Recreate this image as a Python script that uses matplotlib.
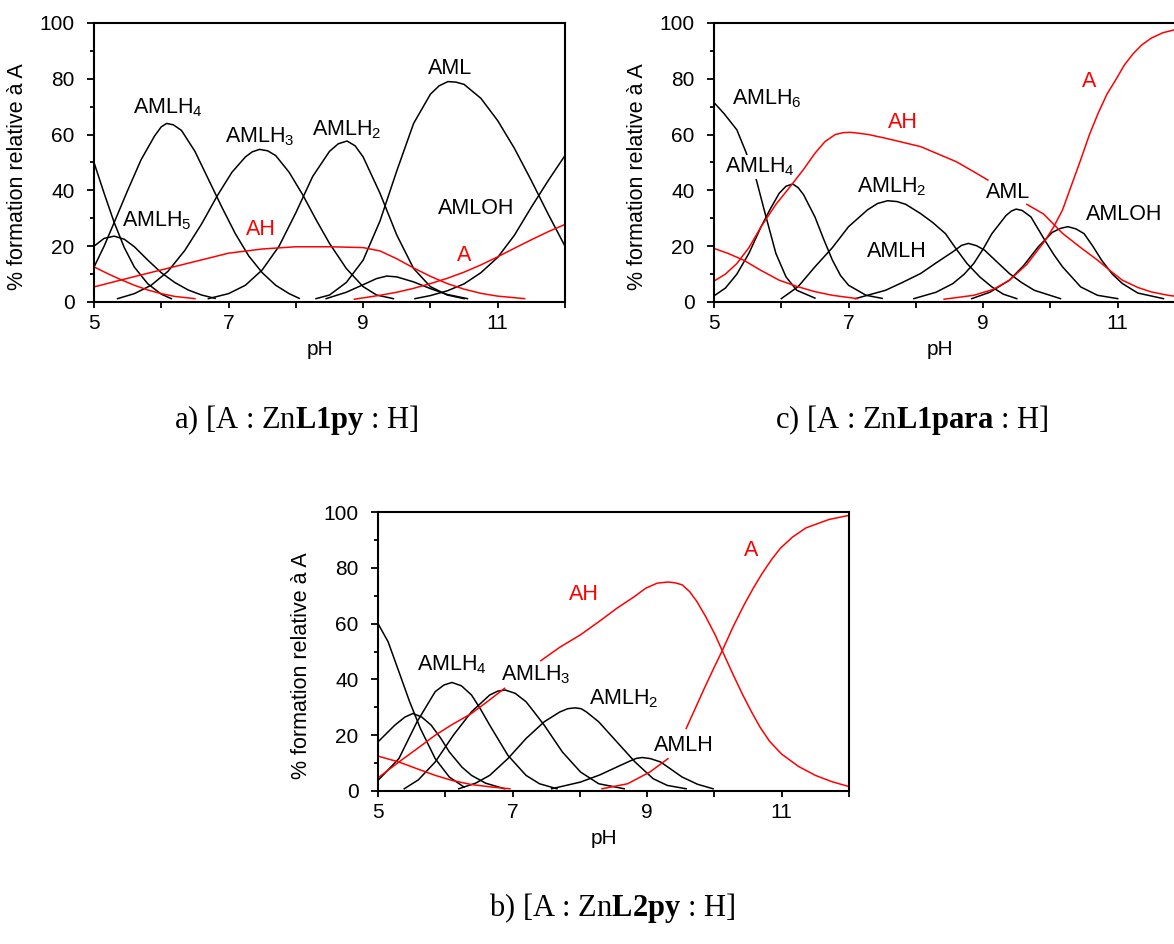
import numpy as np
import matplotlib
matplotlib.use("Agg")
import matplotlib.pyplot as plt

plt.rcParams['font.family'] = ['Liberation Sans', 'DejaVu Sans']
plt.rcParams['mathtext.fontset'] = 'custom'
plt.rcParams['mathtext.rm'] = 'Liberation Sans'
plt.rcParams['mathtext.it'] = 'Liberation Sans:italic'
plt.rcParams['mathtext.bf'] = 'Liberation Serif:bold'

nan = np.nan

# ---- panel a) [A : ZnL1py : H] ----
a_h6_x = [5.0, 5.15, 5.3, 5.45, 5.6, 5.8, 6.0, 6.15]
a_h6_y = [50, 39, 28.5, 19.5, 12.5, 6.5, 2.8, 1.2]
a_h5_x = [5.0, 5.15, 5.3, 5.45, 5.6, 5.8, 6.0, 6.2, 6.4, 6.6, 6.8]
a_h5_y = [20, 22.8, 23.6, 22.5, 19.8, 15, 10.5, 7, 4.3, 2.5, 1.3]
a_h4_x = [5.0, 5.15, 5.3, 5.5, 5.7, 5.9, 6.0, 6.08, 6.18, 6.3, 6.5, 6.7, 6.9, 7.1, 7.3, 7.5, 7.7, 7.9, 8.05]
a_h4_y = [12.5, 20, 28.5, 40, 51, 59.5, 62.8, 64, 63.5, 61.5, 54, 44, 34, 24.5, 16.5, 10.5, 6, 3, 1.3]
a_h3_x = [5.35, 5.6, 5.85, 6.1, 6.35, 6.6, 6.83, 7.05, 7.25, 7.35, 7.46, 7.58, 7.7, 7.9, 8.1, 8.3, 8.5,
          8.75, 9.0, 9.2, 9.45]
a_h3_y = [1.2, 3, 6, 11, 18.5, 28, 38, 46.5, 52, 53.8, 54.7, 54.2, 52.5, 46.5, 38.5, 29.5, 21,
          12, 5.5, 2.5, 1.2]
a_h2_x = [6.7, 7.0, 7.25, 7.5, 7.75, 8.0, 8.25, 8.5, 8.63, 8.76, 8.88, 9.0, 9.25, 9.5, 9.75, 10.0, 10.25, 10.5]
a_h2_y = [1.2, 3, 6, 11.5, 20, 32, 45, 54, 56.7, 57.7, 56, 52, 39, 24, 12, 5.5, 2.5, 1.2]
a_h1_x = [8.45, 8.75, 9.0, 9.2, 9.35, 9.5, 9.75, 10.0, 10.25, 10.55]
a_h1_y = [1.2, 3.5, 6.2, 8.4, 9.3, 9, 7.2, 4.8, 2.7, 1.2]
a_l_x = [8.3, 8.5, 8.75, 9.0, 9.25, 9.5, 9.75, 10.0, 10.13, 10.26, 10.38, 10.5, 10.75, 11.0, 11.25, 11.5,
         11.75, 12.0]
a_l_y = [1.2, 2.5, 7, 15, 29, 47, 64, 74.5, 77.5, 79, 78.8, 78, 73, 65, 55, 43.5, 31.5, 20]
a_oh_x = [9.77, 10.0, 10.25, 10.5, 10.75, 11.0, 11.25, 11.5, 11.75, 12.0]
a_oh_y = [1.2, 2.3, 4, 6.5, 10.5, 16, 24, 34, 43.5, 52.5]
a_free_x = [5.0, 5.2, 5.4, 5.6, 5.8, 6.0, 6.2, 6.5]
a_free_y = [12.6, 10.2, 8, 6, 4.3, 3, 2, 1.2]
a_ah_x = [5.0, 5.5, 6.0, 6.5, 7.0, 7.5, 8.0, 8.5, 9.0, 9.25, 9.5, 9.75, 10.0, 10.25, 10.5, 10.75, 11.0, 11.4]
a_ah_y = [5.4, 8.5, 11.5, 14.5, 17.5, 19, 19.8, 19.8, 19.5, 18.3, 15.5, 12.2, 9.2, 6.6, 4.6, 3.1, 2.1, 1.2]
a_a_x = [8.87, 9.25, 9.5, 9.75, 10.0, 10.25, 10.5, 10.75, 11.0, 11.25, 11.5, 11.75, 12.0]
a_a_y = [1, 2.4, 3.5, 4.9, 6.6, 8.5, 10.7, 13.3, 16.2, 19.3, 22.3, 25.2, 27.8]

# ---- panel c) [A : ZnL1para : H] ----
c_h6_x = [5.0, 5.15, 5.34, 5.47, 5.63, 5.76, 5.92, 6.07, 6.23, 6.5]
c_h6_y = [71.5, 67.5, 61.7, 54, 43.7, 31.7, 17.4, 9, 4.2, 1.4]
c_h4_x = [5.0, 5.17, 5.34, 5.52, 5.7, 5.84, 5.97, 6.07, 6.17, 6.25, 6.33, 6.5, 6.63, 6.76, 6.88, 7.0,
          7.26, 7.5]
c_h4_y = [2.2, 5, 10, 17.5, 27, 33.5, 39, 41.5, 42.3, 41, 38.5, 30.5, 22.5, 15, 9.5, 6, 2.4, 1.3]
c_h2_x = [6.0, 6.25, 6.5, 6.76, 7.0, 7.28, 7.43, 7.58, 7.72, 7.85, 8.07, 8.25, 8.44, 8.6, 8.76, 8.95,
          9.13, 9.3, 9.5]
c_h2_y = [1.2, 5.5, 12.6, 19.5, 27, 33, 35.3, 36.3, 36, 35, 31.7, 28.5, 24.5, 19, 13.8, 9, 5.4, 2.8, 1.2]
c_h1_x = [7.1, 7.55, 7.8, 8.07, 8.3, 8.55, 8.68, 8.78, 8.9, 9.02, 9.2, 9.39, 9.57, 9.76, 10.15]
c_h1_y = [1.2, 4.2, 7, 10.2, 14, 18, 20.3, 21, 20.2, 18.6, 14.5, 10.2, 7, 4.2, 1.2]
c_l_x = [7.97, 8.3, 8.55, 8.72, 8.86, 9.0, 9.13, 9.34, 9.42, 9.49, 9.58, 9.71, 9.92, 10.05, 10.18,
         10.45, 10.7, 11.0]
c_l_y = [1.2, 3.5, 6.6, 10, 13.8, 19, 24.5, 31, 32.6, 33.3, 32.8, 30.5, 22, 17, 12.6, 5.4, 2.4, 1.2]
c_oh_x = [8.83, 9.1, 9.39, 9.6, 9.82, 10.03, 10.15, 10.26, 10.38, 10.5, 10.63, 10.76, 10.92, 11.07,
          11.3, 11.68]
c_oh_y = [1.2, 3.5, 7.8, 13, 19.8, 25, 26.4, 27, 26.2, 24.5, 20, 15, 10, 6.6, 3.2, 1.2]
c_free_x = [5.0, 5.2, 5.44, 5.7, 5.97, 6.23, 6.5, 6.76, 7.13]
c_free_y = [19.2, 17.5, 15, 11.3, 7.8, 5.6, 3.7, 2.4, 1.2]
c_ah_x = [5.0, 5.17, 5.34, 5.52, 5.7, 5.92, 6.13, 6.33, 6.5, 6.65, 6.8, 6.92, 7.03, 7.15, 7.3, 7.55,
          8.07, 8.6, 8.86, 9.07,
          nan, 9.65, 9.9, 10.18, 10.45, 10.7, 10.9, 11.07, 11.3, 11.5, 11.75, 12.0]
c_ah_y = [7.5, 10, 13.8, 19.5, 27, 35, 41.3, 47.5, 53.3, 57.5, 60, 60.7, 60.8, 60.5, 60, 58.7,
          55.7, 50.3, 46.7, 43.7,
          nan, 35, 31.5, 24.6, 19.5, 15, 11, 7.8, 5.2, 3.6, 2.4, 1.6]
c_a_x = [8.42, 8.86, 9.15, 9.39, 9.65, 9.92, 10.05, 10.18, 10.3, 10.45, 10.58, 10.71, 10.84, 10.97,
         11.1, 11.23, 11.36, 11.5, 11.67, 11.85, 12.0]
c_a_y = [1, 2.4, 4.5, 7.8, 13.5, 22, 27, 33, 41, 51, 60, 67.7, 74.5, 79.6, 85, 89, 92.2, 94.6, 96.5,
         97.6, 98]

# ---- panel b) [A : ZnL2py : H] ----
b_h6_x = [5.0, 5.15, 5.31, 5.47, 5.63, 5.85, 6.06, 6.28]
b_h6_y = [60, 53.5, 42.8, 32, 22.4, 11.6, 5, 1.4]
b_h5_x = [5.0, 5.25, 5.4, 5.52, 5.65, 5.79, 5.93, 6.06, 6.25, 6.39, 6.6, 6.88]
b_h5_y = [17.6, 23.6, 26.5, 27.8, 26.5, 23.6, 19, 14, 8.5, 5.6, 2.8, 0.8]
b_h4_x = [5.0, 5.31, 5.58, 5.85, 5.98, 6.1, 6.24, 6.39, 6.52, 6.66, 6.93, 7.2, 7.4, 7.66]
b_h4_y = [3.8, 11.6, 24.8, 35.6, 38, 38.9, 37.7, 34.4, 29.5, 23.6, 12.8, 5.6, 2.6, 0.8]
b_h3_x = [5.39, 5.6, 5.85, 6.12, 6.39, 6.66, 6.78, 6.89, 7.04, 7.2, 7.33, 7.47, 7.74, 8.01, 8.28, 8.66]
b_h3_y = [0.8, 4, 10.4, 20, 28.4, 34.4, 35.8, 36.2, 35, 32, 28, 23.6, 14, 6.8, 2.6, 0.8]
b_h2_x = [6.2, 6.45, 6.66, 6.93, 7.2, 7.47, 7.7, 7.82, 7.93, 8.02, 8.1, 8.28, 8.55, 8.82, 9.09, 9.3, 9.58]
b_h2_y = [0.8, 2.8, 5.6, 11.6, 18.8, 24.8, 28.3, 29.5, 29.8, 29.5, 28.3, 24.8, 17.6, 10.4, 4.4, 2, 0.8]
b_h1_x = [7.58, 8.01, 8.3, 8.55, 8.75, 8.84, 8.93, 9.05, 9.2, 9.52, 9.75, 9.98]
b_h1_y = [0.8, 3.2, 5.8, 8.6, 10.8, 11.7, 12, 11.6, 10.4, 5, 2.4, 0.8]
b_free_x = [5.0, 5.31, 5.6, 5.85, 6.1, 6.39, 6.7, 6.96]
b_free_y = [12.5, 10.4, 7.8, 5.6, 3.8, 2.3, 1.4, 0.8]
b_ah_x = [5.0, 5.31, 5.6, 5.85, 6.1, 6.39, 6.65, 6.88, nan, 7.42, 7.7, 8.01, 8.3, 8.55, 8.8, 8.98, 9.15,
          9.31, 9.42, 9.52, 9.63, 9.74, 9.87, 10.01, 10.14, 10.28, 10.42, 10.55, 10.68, 10.82, 11.0,
          11.25, 11.5, 11.75, 12.0]
b_ah_y = [4.7, 10.4, 15.5, 20, 23.8, 27.8, 32.5, 36.8, nan, 46.7, 51.5, 56, 61, 65.5, 69.5, 72.7, 74.5,
          74.9, 74.6, 73.9, 71.5, 67.9, 62.5, 56, 49, 41.6, 34.5, 28.4, 22.8, 17.8, 13.2,
          8.8, 5.6, 3.3, 1.6]
b_a_x = [8.33, 8.71, 9.04, 9.31, nan, 9.58, 9.85, 9.98, 10.12, 10.28, 10.44, 10.58, 10.71, 10.85, 10.98,
         11.16, 11.36, 11.7, 12.0]
b_a_y = [0.8, 2.6, 6.8, 11.6, nan, 22.4, 36.8, 43.5, 50.5, 59, 66.7, 72.8, 78, 83, 87,
         91, 94.3, 97.3, 98.8]

black_a = [(a_h6_x, a_h6_y), (a_h5_x, a_h5_y), (a_h4_x, a_h4_y), (a_h3_x, a_h3_y), (a_h2_x, a_h2_y),
           (a_h1_x, a_h1_y), (a_l_x, a_l_y), (a_oh_x, a_oh_y)]
red_a = [(a_free_x, a_free_y), (a_ah_x, a_ah_y), (a_a_x, a_a_y)]
labels_a = [("AMLH$_4$", 6.1, 69.5, 'k', False), ("AMLH$_3$", 7.46, 59.3, 'k', False),
            ("AMLH$_2$", 8.76, 61.7, 'k', False), ("AML", 10.29, 83.8, 'k', False),
            ("AMLH$_5$", 5.94, 29.3, 'k', False), ("AMLOH", 10.68, 33.5, 'k', False),
            ("AH", 7.48, 26, 'r', False), ("A", 10.5, 16.8, 'r', False)]

black_c = [(c_h6_x, c_h6_y), (c_h4_x, c_h4_y), (c_h2_x, c_h2_y), (c_h1_x, c_h1_y), (c_l_x, c_l_y),
           (c_oh_x, c_oh_y)]
red_c = [(c_free_x, c_free_y), (c_ah_x, c_ah_y), (c_a_x, c_a_y)]
labels_c = [("AMLH$_6$", 5.78, 73, 'k', False), ("AMLH$_4$", 5.68, 48.5, 'k', True),
            ("AMLH$_2$", 7.64, 41.3, 'k', False), ("AMLH", 7.72, 18, 'k', False),
            ("AML", 9.37, 39.2, 'k', False), ("AMLOH", 11.09, 31.4, 'k', False),
            ("AH", 7.81, 64.3, 'r', False), ("A", 10.58, 79, 'r', False)]

black_b = [(b_h6_x, b_h6_y), (b_h5_x, b_h5_y), (b_h4_x, b_h4_y), (b_h3_x, b_h3_y), (b_h2_x, b_h2_y),
           (b_h1_x, b_h1_y)]
red_b = [(b_free_x, b_free_y), (b_ah_x, b_ah_y), (b_a_x, b_a_y)]
labels_b = [("AMLH$_4$", 6.1, 45.1, 'k', False), ("AMLH$_3$", 7.34, 41.6, 'k', False),
            ("AMLH$_2$", 8.65, 33.2, 'k', False), ("AMLH", 9.55, 16.2, 'k', False),
            ("AH", 8.06, 70.3, 'r', False), ("A", 10.54, 86.1, 'r', False)]

W, H = 1174, 944
fig = plt.figure(figsize=(W / 100, H / 100), dpi=100)


def panel(left, top, blacks, reds, labels):
    ax = fig.add_axes([left / W, 1 - (top + 279) / H, 471 / W, 279 / H])
    for x, y in blacks:
        ax.plot(x, y, color='black', lw=1.1)
    for x, y in reds:
        ax.plot(x, y, color='#ff0000', lw=1.1)
    for txt, x, y, c, boxed in labels:
        t = ax.text(x, y, txt, color='black' if c == 'k' else '#ff0000', fontsize=15.5,
                    ha='center', va='center', zorder=5)
        if boxed:
            t.set_bbox(dict(facecolor='white', edgecolor='none', pad=0.5))
    ax.set_xlim(5, 12)
    ax.set_ylim(0, 100)
    ax.set_xticks([5, 7, 9, 11])
    ax.set_xticks([6, 8, 10, 12], minor=True)
    ax.set_yticks([0, 20, 40, 60, 80, 100])
    ax.set_yticks([10, 30, 50, 70, 90], minor=True)
    ax.tick_params(axis='x', which='both', direction='out', length=4, width=1.3, labelsize=15, pad=5)
    ax.tick_params(axis='y', which='major', direction='out', length=5, width=1.3, labelsize=15, pad=9)
    ax.tick_params(axis='y', which='minor', direction='out', length=3, width=1.3)
    for s in ax.spines.values():
        s.set_linewidth(1.5)
    ax.set_xlabel("pH", fontsize=15)
    ax.xaxis.set_label_coords(0.48, -0.135)
    ax.set_ylabel("% formation relative à A", fontsize=15.5)
    ax.yaxis.set_label_coords(-0.14, 0.45)
    return ax


panel(94, 23, black_a, red_a, labels_a)
panel(714, 23, black_c, red_c, labels_c)
panel(378, 512, black_b, red_b, labels_b)

cap = dict(fontsize=22, family='Liberation Serif', ha='center', va='center')
fig.text(296 / W, 1 - 420 / H, r"a) [A : Zn$\mathbf{L1py}$ : H]", **cap)
fig.text(912 / W, 1 - 420 / H, r"c) [A : Zn$\mathbf{L1para}$ : H]", **cap)
fig.text(612 / W, 1 - 908 / H, r"b) [A : Zn$\mathbf{L2py}$ : H]", **cap)

fig.savefig("out.png", dpi=100)
